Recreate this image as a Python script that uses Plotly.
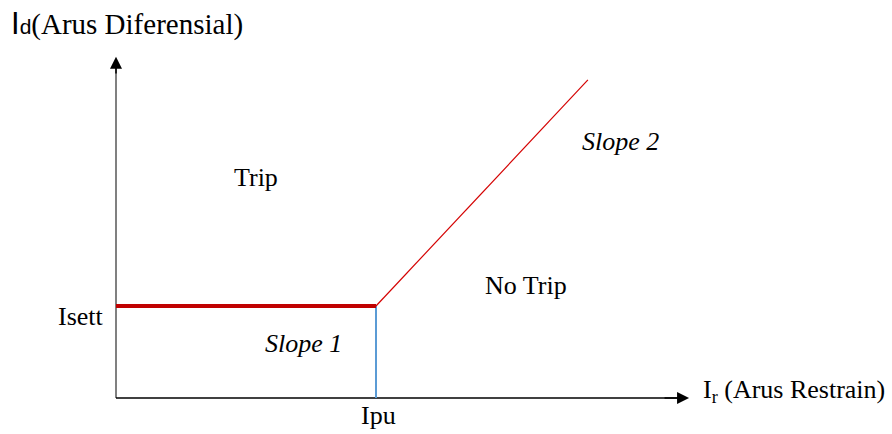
import plotly.graph_objects as go

# ---- data (per-unit characteristic) ----
ir_slope1 = [0.0, 1.0]          # Ir, flat section up to Ipu
id_slope1 = [1.0, 1.0]          # Id = Isett
ir_slope2 = [1.0, 1.815]        # Ir, rising section
id_slope2 = [1.0, 3.457]
ipu = 1.0
isett = 1.0
x_axis_end = 2.204
y_axis_end = 3.71

# pixel mapping helpers (figure 892x434, origin at pixel (116,398))
PX_X, PX_Y = 260.0, 92.0
x_range = [-116 / PX_X, 776 / PX_X]
y_range = [-36 / PX_Y, 398 / PX_Y]

def px(xp, yp):
    return (xp - 116) / PX_X, (398 - yp) / PX_Y

FONT = "Liberation Serif, Times New Roman, serif"

fig = go.Figure()

# blue vertical line at Ipu
fig.add_trace(go.Scatter(x=[ipu, ipu], y=[0, isett], mode="lines",
                         line=dict(color="#5b9bd5", width=2), hoverinfo="skip"))
# slope 1 (thick red)
fig.add_trace(go.Scatter(x=ir_slope1, y=id_slope1, mode="lines",
                         line=dict(color="#c00000", width=4), hoverinfo="skip"))
# slope 2 (thin red)
fig.add_trace(go.Scatter(x=ir_slope2, y=id_slope2, mode="lines",
                         line=dict(color="#d40000", width=1.2), hoverinfo="skip"))

# axes lines
fig.add_shape(type="line", x0=0, y0=0, x1=0, y1=y_axis_end - 0.1,
              line=dict(color="#808080", width=2), layer="below")
fig.add_shape(type="line", x0=0, y0=0, x1=x_axis_end - 0.03, y1=0,
              line=dict(color="#000000", width=1.3), layer="below")

# arrow heads
fig.add_annotation(x=0, y=y_axis_end, ax=0, ay=y_axis_end - 0.2, xref="x", yref="y",
                   axref="x", ayref="y", text="", showarrow=True, arrowhead=2,
                   arrowsize=1.6, arrowwidth=1.5, arrowcolor="#000000")
fig.add_annotation(x=x_axis_end, y=0, ax=x_axis_end - 0.1, ay=0, xref="x", yref="y",
                   axref="x", ayref="y", text="", showarrow=True, arrowhead=2,
                   arrowsize=1.6, arrowwidth=1.5, arrowcolor="#000000")

def label(text, xp, yp, xanchor="left", size=26):
    x, y = px(xp, yp)
    fig.add_annotation(x=x, y=y, xref="x", yref="y", text=text, showarrow=False,
                       xanchor=xanchor, yanchor="middle",
                       font=dict(family=FONT, size=size, color="#000000"))

label("<span style='font-family:Liberation Sans, Arial, sans-serif;font-size:31px'>I</span>"
      "<span style='font-family:Liberation Sans, Arial, sans-serif;font-size:21px'>d</span>"
      "(Arus Diferensial)", 9, 23, size=29)
label("Trip", 232, 177)
label("No Trip", 483, 285)
label("<i>Slope 2</i>", 580, 141)
label("<i>Slope 1</i>", 263, 343)
label("Isett", 56, 316)
label("Ipu", 378, 415, xanchor="center")
label("I<sub>r</sub> (Arus Restrain)", 701, 391)

fig.update_layout(
    width=892, height=434,
    margin=dict(l=0, r=0, t=0, b=0),
    paper_bgcolor="white", plot_bgcolor="white",
    showlegend=False,
    xaxis=dict(range=x_range, visible=False, fixedrange=True),
    yaxis=dict(range=y_range, visible=False, fixedrange=True),
)

fig.write_html("out.html", config={"displayModeBar": False},
               post_script="document.body.style.margin='0';document.body.style.overflow='hidden';")
